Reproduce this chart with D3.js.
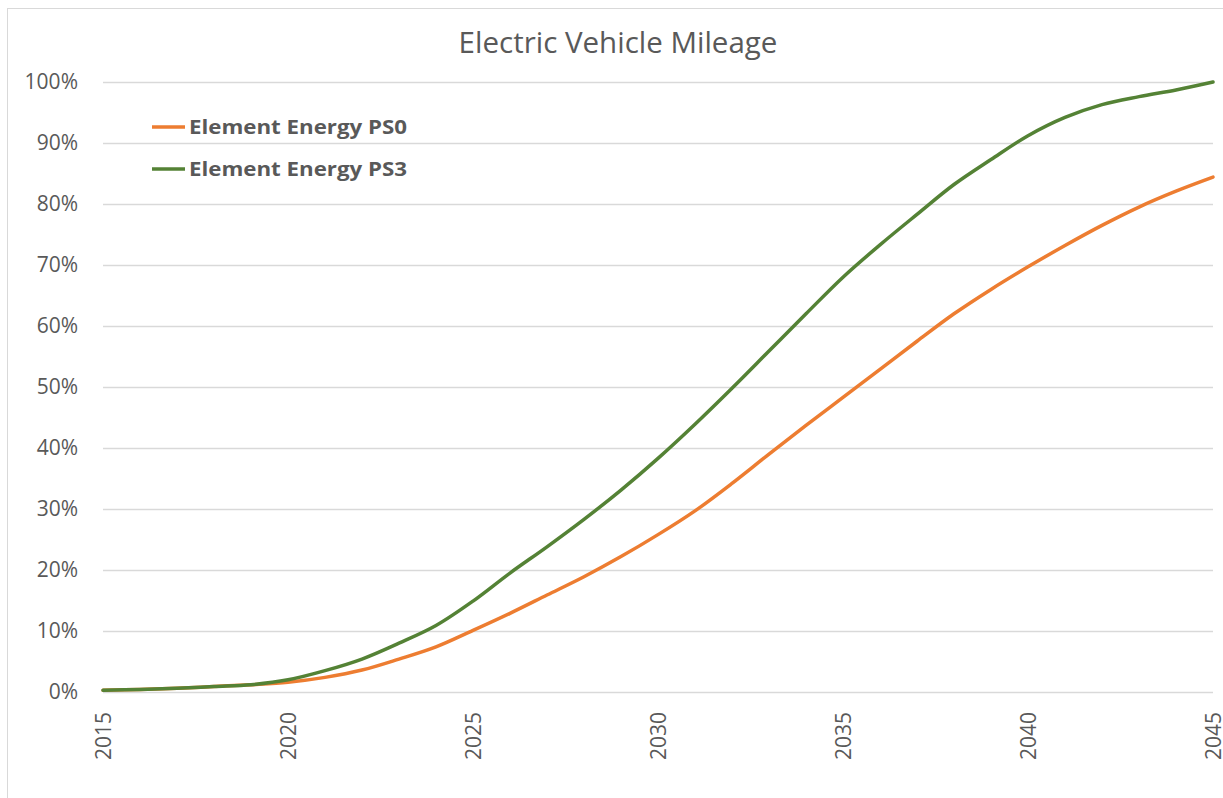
<!DOCTYPE html>
<html>
<head>
<meta charset="utf-8">
<script src="https://cdn.jsdelivr.net/npm/d3@7"></script>
<style>
  body { margin: 0; background: #fff; }
  text { font-family: "Open Sans", "Noto Sans", sans-serif; fill: #595959; }
</style>
</head>
<body>
<div id="chart"></div>
<script>
// Data
const years = d3.range(2015, 2046);
const ps0 = [0.3, 0.4, 0.6, 0.9, 1.2, 1.6, 2.4, 3.6, 5.4, 7.4, 10.1, 12.9, 15.9, 18.9, 22.2, 25.8,
  29.7, 34.2, 39.0, 43.7, 48.3, 52.9, 57.5, 62.0, 66.0, 69.7, 73.2, 76.5, 79.5, 82.1, 84.4];
const ps3 = [0.3, 0.4, 0.6, 0.9, 1.2, 2.0, 3.5, 5.4, 8.0, 10.9, 14.9, 19.5, 23.8, 28.3, 33.1, 38.3,
  43.9, 49.8, 55.9, 62.0, 68.0, 73.3, 78.3, 83.2, 87.3, 91.2, 94.2, 96.3, 97.6, 98.7, 100];
const seriesNames = ["Element Energy PS0", "Element Energy PS3"];
const colors = ["#ED7D31", "#548235"];
const xTicks = [2015, 2020, 2025, 2030, 2035, 2040, 2045];
const yTicks = [0, 10, 20, 30, 40, 50, 60, 70, 80, 90, 100];

const W = 1223, H = 798;
const margin = { top: 82, right: 10, bottom: 106, left: 103 };
const width = 1213 - margin.left;
const height = 692 - margin.top;

const svg = d3.select("#chart")
  .append("svg")
  .attr("width", W)
  .attr("height", H);

// chart area border (only top and left visible)
svg.append("rect")
  .attr("x", 7.5).attr("y", 8.5)
  .attr("width", 1240).attr("height", 820)
  .attr("fill", "none")
  .attr("stroke", "#d9d9d9");

const g = svg.append("g")
  .attr("transform", `translate(${margin.left},${margin.top})`);

const x = d3.scaleLinear().domain([2015, 2045]).range([0, width]);
const y = d3.scaleLinear().domain([0, 100]).range([height, 0]);

// gridlines
g.selectAll(".grid")
  .data(yTicks)
  .enter()
  .append("line")
  .attr("x1", 0).attr("x2", width)
  .attr("y1", d => Math.round(y(d)) + 0.5)
  .attr("y2", d => Math.round(y(d)) + 0.5)
  .attr("stroke", "#d9d9d9")
  .attr("stroke-width", 1.3);

// y axis labels
const yAxis = g.append("g")
  .call(d3.axisLeft(y).tickValues(yTicks).tickFormat(d => d + "%").tickSize(0).tickPadding(25));
yAxis.select(".domain").remove();
yAxis.selectAll("text")
  .style("font-size", "21px")
  .attr("fill", "#595959");

// x axis labels (rotated)
const xAxis = g.append("g")
  .attr("transform", `translate(0,${height})`)
  .call(d3.axisBottom(x).tickValues(xTicks).tickFormat(d3.format("d")).tickSize(0));
xAxis.select(".domain").remove();
xAxis.selectAll("text")
  .style("font-size", "21px")
  .attr("fill", "#595959")
  .attr("text-anchor", "end")
  .attr("transform", "rotate(-90)")
  .attr("x", -20)
  .attr("y", 0)
  .attr("dy", "0.35em");

// lines
const line = d3.line()
  .x((d, i) => x(years[i]))
  .y(d => y(d))
  .curve(d3.curveCatmullRom.alpha(0.5));

[ps0, ps3].forEach((s, i) => {
  g.append("path")
    .datum(s)
    .attr("fill", "none")
    .attr("stroke", colors[i])
    .attr("stroke-width", 3.5)
    .attr("stroke-linecap", "round")
    .attr("d", line);
});

// title
svg.append("text")
  .attr("x", 618)
  .attr("y", 53)
  .attr("text-anchor", "middle")
  .style("font-size", "29.5px")
  .text("Electric Vehicle Mileage");

// legend
const legend = svg.append("g");
seriesNames.forEach((name, i) => {
  const ly = 127 + i * 42;
  legend.append("line")
    .attr("x1", 152).attr("x2", 185)
    .attr("y1", ly).attr("y2", ly)
    .attr("stroke", colors[i])
    .attr("stroke-width", 3.5);
  legend.append("text")
    .attr("x", 189)
    .attr("y", ly)
    .attr("dy", "0.35em")
    .attr("textLength", 218)
    .attr("lengthAdjust", "spacingAndGlyphs")
    .style("font-size", "19px")
    .style("font-weight", "bold")
    .text(name);
});
</script>
</body>
</html>
